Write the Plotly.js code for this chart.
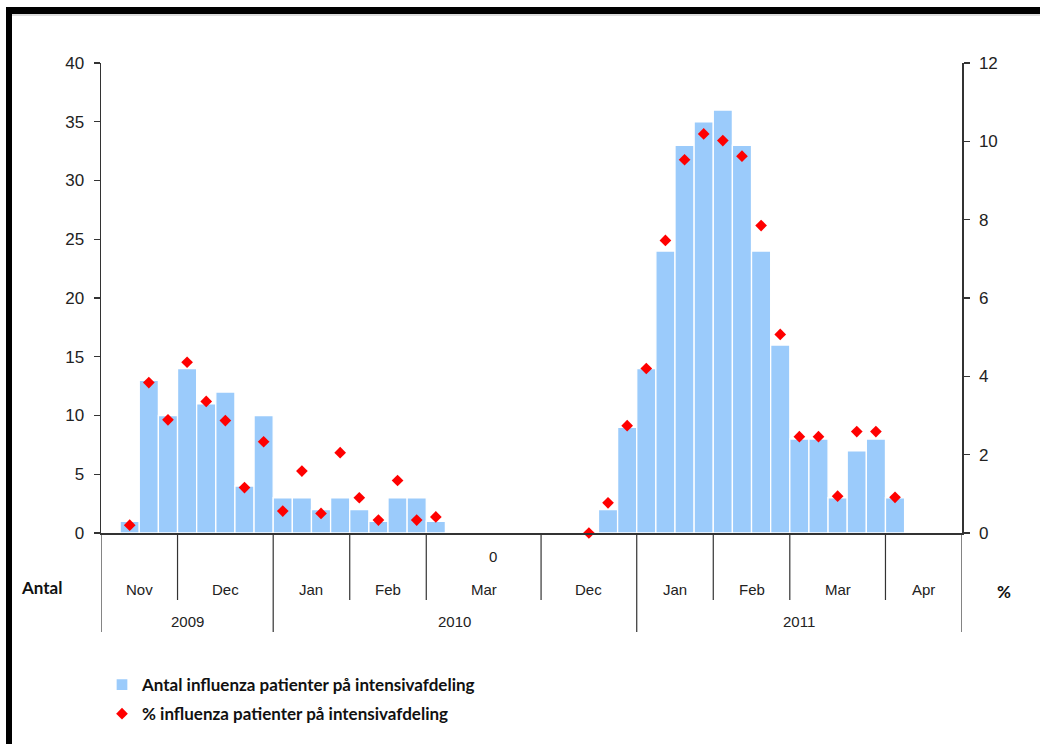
<!DOCTYPE html>
<html>
<head>
<meta charset="utf-8">
<script src="https://cdn.plot.ly/plotly-3.0.1.min.js"></script>
<style>html,body{margin:0;padding:0;background:#fff;}#chart{width:1040px;height:744px;}</style>
</head>
<body>
<div id="chart"></div>
<script>
// ---- data ----
const weeks = [
  '2009-44','2009-45','2009-46','2009-47','2009-48','2009-49','2009-50','2009-51','2009-52',
  '2010-01','2010-02','2010-03','2010-04','2010-05','2010-06','2010-07','2010-08',
  '2010-09','2010-10','2010-11','2010-12','2010-13','2010-14',
  '2010-48','2010-49','2010-50','2010-51','2010-52',
  '2011-01','2011-02','2011-03','2011-04','2011-05','2011-06','2011-07','2011-08',
  '2011-09','2011-10','2011-11','2011-12','2011-13','2011-14','2011-15','2011-16','2011-17'
];
const antal = [
  null,1,13,10,14,11,12,4,10,
  3,3,2,3,2,1,3,3,
  1,null,null,null,null,null,
  null,null,null,2,9,
  14,24,33,35,36,33,24,16,
  8,8,3,7,8,3,null,null,null
];
const pct = [
  null,0.20,3.84,2.89,4.36,3.36,2.87,1.16,2.33,
  0.56,1.58,0.50,2.05,0.90,0.33,1.34,0.33,
  0.41,null,null,null,null,null,
  null,null,0,0.77,2.74,
  4.20,7.47,9.53,10.19,10.02,9.62,7.85,5.07,
  2.46,2.46,0.94,2.59,2.59,0.91,null,null,null
];
const months = ['Nov','Dec','Jan','Feb','Mar','Dec','Jan','Feb','Mar','Apr'];
const monthWeeks = [4,5,4,4,6,5,4,4,5,4];
const years = ['2009','2010','2011'];
const yearWeeks = [9,19,17];
const seriesNames = ['Antal influenza patienter på intensivafdeling','% influenza patienter på intensivafdeling'];
const gapLabel = '0';
const leftLabel = 'Antal';
const rightLabel = '%';

// ---- layout helpers (pixel geometry) ----
const L = 101, R = 962, T = 63, B = 533, W = 1040, H = 744;
const px2x = p => (p - L) / (R - L);
const px2y = p => (B - p) / (B - T);
const axisFont = {family: 'Liberation Sans, Arial, sans-serif', size: 17, color: '#222'};
const catFont = {family: 'Liberation Sans, Arial, sans-serif', size: 15, color: '#222'};
const boldFont = {family: 'Lato, Open Sans, sans-serif', size: 17, color: '#111', weight: 'bold'};

const shapes = [];
const annotations = [];
// month separators & labels
let start = 0;
const monthEnd = px2y(600), yearEnd = px2y(632);
const yearBounds = [];
let acc = 0;
yearWeeks.forEach(n => { acc += n; yearBounds.push(acc - 0.5); });
monthWeeks.forEach((n, i) => {
  annotations.push({x: start + (n - 1) / 2, xref: 'x', y: px2y(589), yref: 'paper', text: months[i],
    showarrow: false, font: catFont, xanchor: 'center', yanchor: 'middle'});
  start += n;
  const b = start - 0.5;
  if (i < monthWeeks.length - 1) {
    const isYear = yearBounds.includes(b);
    shapes.push({type: 'line', xref: 'x', yref: 'paper', x0: b, x1: b, y0: 0, y1: isYear ? yearEnd : monthEnd,
      line: {color: '#333', width: 1.2}});
  }
});
// outer vertical edges
shapes.push({type: 'line', xref: 'x', yref: 'paper', x0: -0.5, x1: -0.5, y0: 0, y1: yearEnd, line: {color: '#333', width: 1.2}});
shapes.push({type: 'line', xref: 'x', yref: 'paper', x0: weeks.length - 0.5, x1: weeks.length - 0.5, y0: 0, y1: yearEnd, line: {color: '#333', width: 1.2}});
// year labels
start = 0;
yearWeeks.forEach((n, i) => {
  annotations.push({x: start + (n - 1) / 2, xref: 'x', y: px2y(621), yref: 'paper', text: years[i],
    showarrow: false, font: catFont, xanchor: 'center', yanchor: 'middle'});
  start += n;
});
// gap label
annotations.push({x: 20, xref: 'x', y: px2y(556), yref: 'paper', text: gapLabel, showarrow: false,
  font: catFont, xanchor: 'center', yanchor: 'middle'});
// axis side labels
annotations.push({x: px2x(42), xref: 'paper', y: px2y(587), yref: 'paper', text: '<b>' + leftLabel + '</b>', showarrow: false,
  font: boldFont, xanchor: 'center', yanchor: 'middle'});
annotations.push({x: px2x(1004), xref: 'paper', y: px2y(591), yref: 'paper', text: '<b>' + rightLabel + '</b>', showarrow: false,
  font: boldFont, xanchor: 'center', yanchor: 'middle'});
// frame (black border top & left)
shapes.push({type: 'rect', xref: 'paper', yref: 'paper', x0: px2x(6), x1: px2x(1041), y0: px2y(14), y1: px2y(7),
  fillcolor: '#000', line: {width: 0}, layer: 'above'});
shapes.push({type: 'line', xref: 'paper', yref: 'paper', x0: px2x(12), x1: px2x(1041), y0: px2y(15), y1: px2y(15),
  line: {color: '#bbb', width: 1}});
shapes.push({type: 'rect', xref: 'paper', yref: 'paper', x0: px2x(6), x1: px2x(12), y0: px2y(745), y1: px2y(7),
  fillcolor: '#000', line: {width: 0}, layer: 'above'});

const traces = [
  {type: 'bar', x: weeks, y: antal, name: seriesNames[0], legendgroup: 'a',
   marker: {color: '#9BCBFB', line: {color: '#ffffff', width: 1.3}}, yaxis: 'y'},
  {type: 'scatter', mode: 'markers', x: weeks, y: pct, name: seriesNames[1], legendgroup: 'b', yaxis: 'y2',
   marker: {symbol: 'diamond', color: '#FF0000', size: 9}, cliponaxis: false}
];

const layout = {
  width: W, height: H,
  margin: {l: L, r: W - R, t: T, b: H - B, pad: 0, autoexpand: false},
  paper_bgcolor: '#fff', plot_bgcolor: '#fff',
  bargap: 0,
  showlegend: true,
  legend: {xref: 'container', yref: 'container', x: 102 / W, y: 1 - 667 / H, xanchor: 'left', yanchor: 'top',
    font: {family: 'Lato, Open Sans, sans-serif', size: 17, color: '#111', weight: 'bold'},
    tracegroupgap: 4, bgcolor: 'rgba(0,0,0,0)', borderwidth: 0},
  xaxis: {type: 'category', range: [-0.5, weeks.length - 0.5], showticklabels: false, ticks: '',
    showline: true, linecolor: '#333', linewidth: 1.5, showgrid: false, zeroline: false, fixedrange: true},
  yaxis: {range: [0, 40], dtick: 5, ticks: 'outside', ticklen: 6, tickcolor: '#333', tickwidth: 1.2,
    showline: true, linecolor: '#333', linewidth: 1.5, showgrid: false, zeroline: false,
    tickfont: axisFont, ticklabelstandoff: 6},
  yaxis2: {range: [0, 12], dtick: 2, overlaying: 'y', side: 'right', ticks: 'outside', ticklen: 6, tickcolor: '#333', tickwidth: 1.2,
    showline: true, linecolor: '#333', linewidth: 1.5, showgrid: false, zeroline: false,
    tickfont: axisFont, ticklabelstandoff: 6},
  yaxis3: {range: [0, 12], dtick: 2, overlaying: 'y', side: 'right', ticks: 'inside', ticklen: 6, tickcolor: '#333', tickwidth: 1.2,
    showline: false, showgrid: false, zeroline: false, showticklabels: false},
  shapes: shapes,
  annotations: annotations
};

Plotly.newPlot('chart', traces, layout, {displayModeBar: false, staticPlot: true});
</script>
</body>
</html>
